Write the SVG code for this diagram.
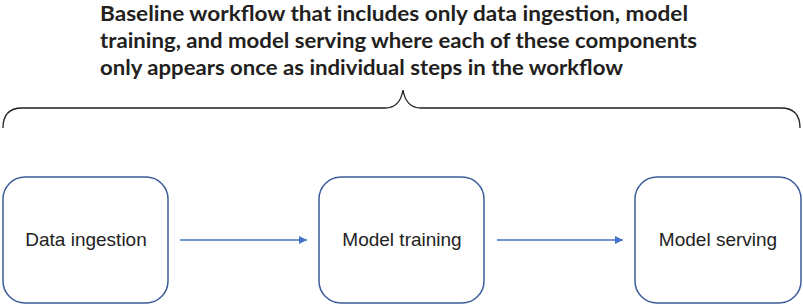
<svg xmlns="http://www.w3.org/2000/svg" width="803" height="306" viewBox="0 0 803 306">
<style>
.title{font-family:Lato,"DejaVu Sans Condensed",sans-serif;font-weight:bold;font-size:21px;fill:#231f20}
.box{fill:#fff;stroke:#3b5d9a;stroke-width:1.5}
.lbl{font-family:"Liberation Sans",Arial,sans-serif;font-size:19px;fill:#222;text-anchor:middle}
.conn{stroke:#4472c4;stroke-width:1.5;fill:none}
.brace{stroke:#231f20;stroke-width:1.3;fill:none}
</style>
<defs>
<marker id="ah" viewBox="0 0 10 10" refX="10" refY="5" markerWidth="11" markerHeight="8" markerUnits="userSpaceOnUse" orient="auto">
<path d="M0,0 L10,5 L0,10 z" fill="#4472c4"/>
</marker>
</defs>
<g id="title">
<text class="title" x="100" y="21" textLength="588" lengthAdjust="spacingAndGlyphs">Baseline workflow that includes only data ingestion, model</text>
<text class="title" x="100" y="48" textLength="597" lengthAdjust="spacingAndGlyphs">training, and model serving where each of these components</text>
<text class="title" x="100" y="75" textLength="523" lengthAdjust="spacingAndGlyphs">only appears once as individual steps in the workflow</text>
</g>
<g id="brace">
<path class="brace" d="M3,128 Q3,108 22,108 L385,108 Q400,108 403,90 Q406,108 421,108 L781,108 Q800,108 800,128"/>
</g>
<g id="node-data-ingestion">
<rect class="box" x="3" y="177" width="165" height="126" rx="22"/>
<text class="lbl" x="86" y="246">Data ingestion</text>
</g>
<g id="node-model-training">
<rect class="box" x="319" y="177" width="165" height="126" rx="22"/>
<text class="lbl" x="402" y="246">Model training</text>
</g>
<g id="node-model-serving">
<rect class="box" x="635" y="177" width="166" height="126" rx="22"/>
<text class="lbl" x="718" y="246">Model serving</text>
</g>
<g id="connectors">
<line class="conn" x1="180" y1="240" x2="307" y2="240" marker-end="url(#ah)"/>
<line class="conn" x1="497" y1="240" x2="623" y2="240" marker-end="url(#ah)"/>
</g>
</svg>
